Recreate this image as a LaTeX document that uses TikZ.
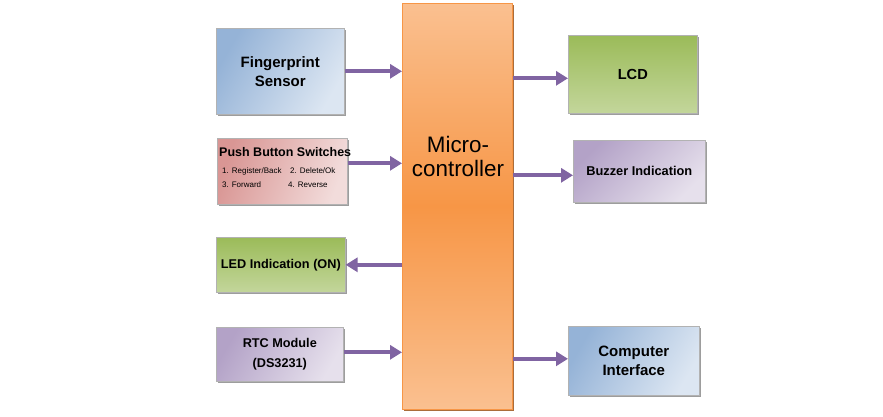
\documentclass[tikz,border=0pt]{standalone}
\usepackage{fontspec}
\usepackage{xcolor}
\usepackage{tikz}
\usetikzlibrary{arrows.meta,shadows}
\setmainfont{Liberation Sans}

\definecolor{arrowpurple}{HTML}{8064A2}
\definecolor{bluedark}{HTML}{95B3D7}
\definecolor{bluelight}{HTML}{DCE6F2}
\definecolor{greendark}{HTML}{9BBB59}
\definecolor{greenlight}{HTML}{C3D69B}
\definecolor{pinkdark}{HTML}{D99694}
\definecolor{pinklight}{HTML}{F2DCDB}
\definecolor{lilacdark}{HTML}{B3A2C7}
\definecolor{lilaclight}{HTML}{E6E0EC}
\definecolor{orangedark}{HTML}{F79646}
\definecolor{orangelight}{HTML}{FAC090}

\begin{document}
\begin{tikzpicture}[x=1pt, y=-1pt,%
% common options for blocks:
block/.style = {draw=white!40!gray, line width=0.6pt, align=center, anchor=north west,
            inner sep=0, font=\bfseries,
            drop shadow={shadow xshift=2pt, shadow yshift=-2pt, fill=black!55, opacity=0.7}},
% common options for the arrows:
link/.style = {draw=arrowpurple, line width=3.8pt,
            -{Triangle[length=12pt, width=14pt]}},
% common options for the small texts:
item/.style = {anchor=base west, inner sep=0, font=\fontsize{8}{9}\selectfont}]
\useasboundingbox (0,0) rectangle (883,417);
\node[block, minimum width=110, minimum height=406, draw=orangedark,
      top color=orangelight, bottom color=orangelight, middle color=orangedark,
      drop shadow={shadow xshift=2pt, shadow yshift=-2pt, fill=orangedark!70!black, opacity=0.9}] (MCU) at (402,3) {};
\node[align=center, inner sep=0, font=\fontsize{22.4}{24}\selectfont] (MCUtext) at (458,156) {Micro-\\controller};
\node[block, minimum width=128, minimum height=86, font=\bfseries\fontsize{15}{19}\selectfont,
      left color=bluedark, right color=bluelight, shading angle=60] (FP) at (216,28) {Fingerprint\\Sensor};
\node[block, minimum width=130, minimum height=66,
      left color=pinkdark, right color=pinklight, shading angle=70] (PB) at (217,138) {};
\node[block, minimum width=129, minimum height=55, font=\bfseries\fontsize{12.7}{15}\selectfont,
      top color=greendark, bottom color=greenlight] (LED) at (216,237) {LED Indication (ON)};
\node[block, minimum width=127, minimum height=54, font=\bfseries\fontsize{12.7}{20}\selectfont,
      left color=lilacdark, right color=lilaclight, shading angle=60] (RTC) at (216,327) {RTC Module\\(DS3231)};
\node[block, minimum width=129, minimum height=78, font=\bfseries\fontsize{14.6}{18}\selectfont,
      top color=greendark, bottom color=greenlight] (LCD) at (568,35) {LCD};
\node[block, minimum width=132, minimum height=62, font=\bfseries\fontsize{12.8}{15}\selectfont,
      left color=lilacdark, right color=lilaclight, shading angle=45] (BZ) at (573,140) {Buzzer Indication};
\node[block, minimum width=131, minimum height=69, font=\bfseries\fontsize{15}{19}\selectfont,
      left color=bluedark, right color=bluelight, shading angle=60] (CI) at (568,326) {Computer\\Interface};
% texts of the switches
\node[item, font=\bfseries\fontsize{12.5}{14}\selectfont] (PB0) at (219,156) {Push Button Switches};
\node[item] (PB1) at (222,173) {1. Register/Back};
\node[item] (PB2) at (290,173) {2. Delete/Ok};
\node[item] (PB3) at (222,187) {3. Forward};
\node[item] (PB4) at (288,187) {4. Reverse};
% arrows
\draw[link] (FP.east) to (FP.east -| MCU.west);
\draw[link] ([yshift=8pt]PB.east) to ([yshift=8pt]PB.east -| MCU.west);
\draw[link] (LED.east -| MCU.west) to (LED.east);
\draw[link] ([yshift=2pt]RTC.east) to ([yshift=2pt]RTC.east -| MCU.west);
\draw[link] ([yshift=-4pt]LCD.west -| MCU.east) to ([yshift=-4pt]LCD.west);
\draw[link] ([yshift=-4pt]BZ.west -| MCU.east) to ([yshift=-4pt]BZ.west);
\draw[link] ([yshift=2pt]CI.west -| MCU.east) to ([yshift=2pt]CI.west);
\end{tikzpicture}
\end{document}
